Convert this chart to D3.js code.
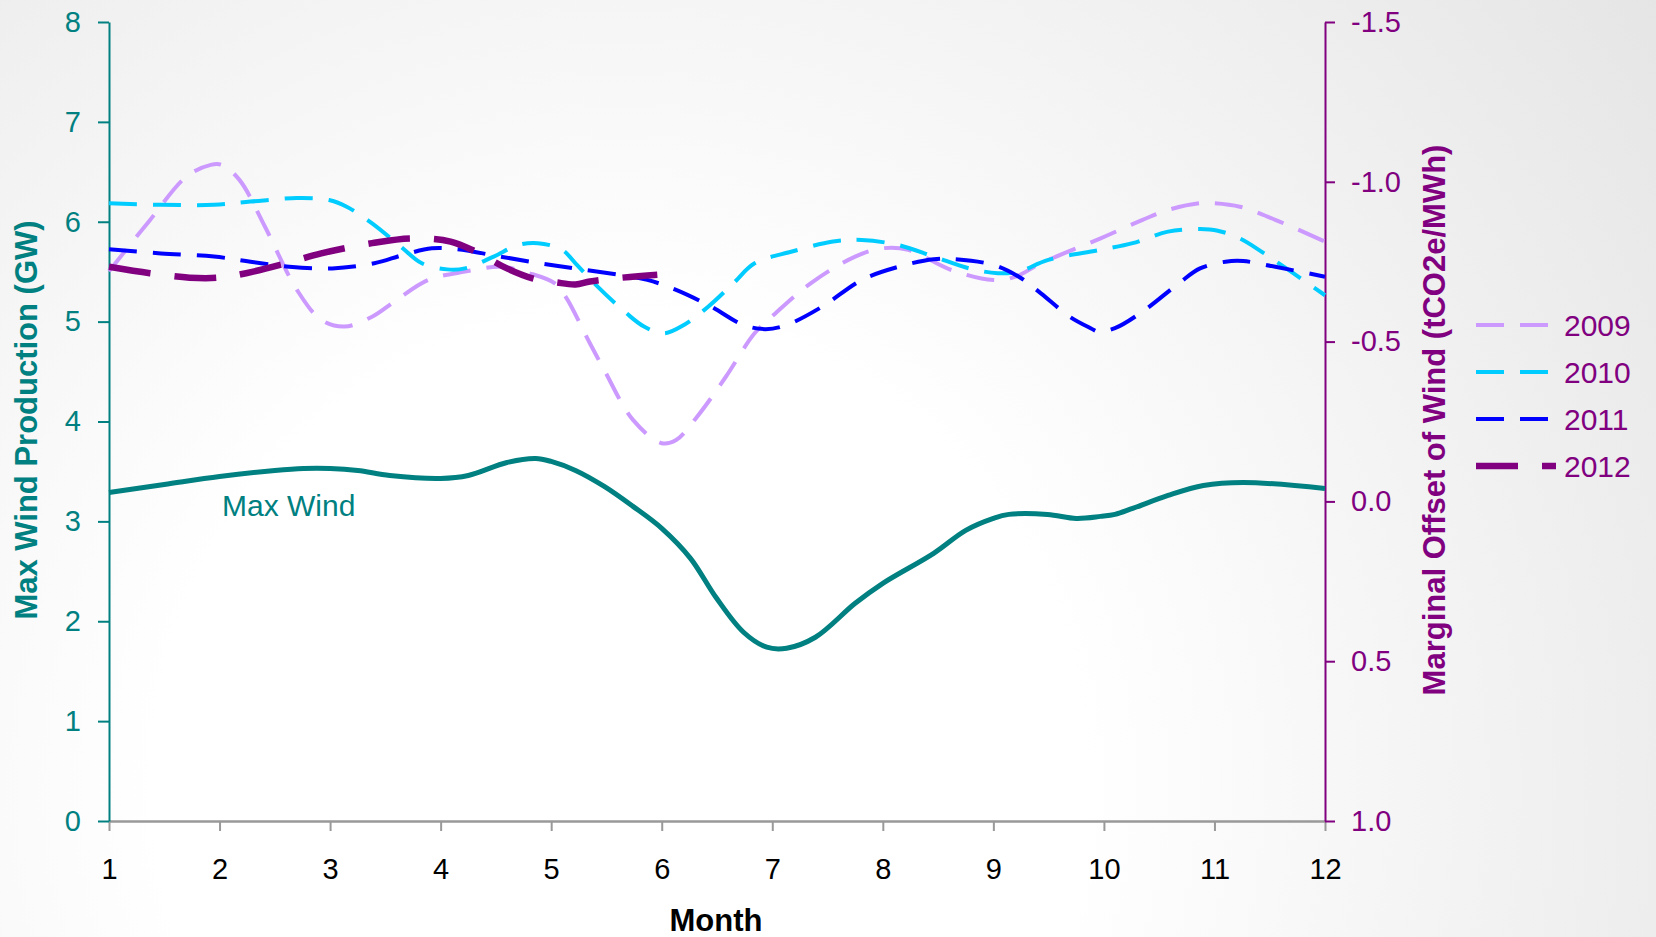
<!DOCTYPE html>
<html><head><meta charset="utf-8">
<script src="https://cdn.jsdelivr.net/npm/d3@7"></script>
<style>
body{margin:0;background:#fff;}
svg{display:block;font-family:"Liberation Sans",Arial,Helvetica,sans-serif;}
</style>
</head><body>
<svg id="chart" width="1656" height="937"></svg>
<script>
// ---------- DATA ----------
const monthTicks = [1,2,3,4,5,6,7,8,9,10,11,12];
const leftTicks = [0,1,2,3,4,5,6,7,8];
const rightTicks = [-1.5,-1.0,-0.5,0.0,0.5,1.0];
const seriesNames = ["2009","2010","2011","2012"];

// Max Wind (GW) – left axis
const maxWindMonths = [1,1.5,2,2.5,2.76,3.0,3.25,3.54,4.0,4.25,4.6,4.86,5.0,5.22,5.48,5.74,6.0,6.26,6.49,6.74,6.95,7.13,7.39,7.75,8.0,8.46,8.75,9.0,9.14,9.49,9.75,9.97,10.1,10.26,10.58,10.9,11.26,12.0];
const maxWindGW    = [3.29,3.37,3.45,3.51,3.53,3.53,3.51,3.46,3.43,3.46,3.59,3.63,3.60,3.51,3.35,3.15,2.93,2.63,2.24,1.89,1.74,1.73,1.84,2.18,2.38,2.68,2.91,3.03,3.07,3.07,3.03,3.05,3.07,3.13,3.26,3.36,3.39,3.33];

// Marginal offset of wind (tCO2e/MWh) – right axis
const months2009 = [1,1.37,1.70,1.92,2.02,2.18,2.41,2.70,2.92,3.13,3.38,3.60,3.89,4.22,4.54,4.80,5.03,5.13,5.35,5.48,5.74,6.0,6.13,6.32,6.58,6.84,7.03,7.35,7.75,8.0,8.23,8.62,9.0,9.2,9.43,9.97,10.35,10.58,10.87,11.0,11.23,11.55,12.0];
const offset2009 = [-0.72,-0.88,-1.016,-1.053,-1.053,-1.006,-0.86,-0.662,-0.568,-0.547,-0.578,-0.63,-0.693,-0.719,-0.734,-0.714,-0.683,-0.641,-0.495,-0.411,-0.255,-0.182,-0.192,-0.265,-0.39,-0.526,-0.589,-0.683,-0.766,-0.792,-0.787,-0.724,-0.693,-0.703,-0.745,-0.823,-0.881,-0.912,-0.933,-0.933,-0.922,-0.881,-0.813];

const months2010 = [1,1.47,1.95,2.28,2.70,2.99,3.15,3.38,3.64,3.83,4.06,4.22,4.48,4.70,4.88,5.10,5.22,5.42,5.68,5.84,6.02,6.20,6.42,6.65,6.84,7.17,7.55,7.81,8.14,8.46,8.78,9.04,9.23,9.49,9.97,10.26,10.58,10.87,11.03,11.23,11.45,12.0];
const offset2010 = [-0.933,-0.928,-0.928,-0.938,-0.949,-0.943,-0.922,-0.87,-0.797,-0.745,-0.726,-0.729,-0.766,-0.802,-0.808,-0.787,-0.745,-0.672,-0.589,-0.547,-0.526,-0.552,-0.609,-0.683,-0.745,-0.781,-0.813,-0.818,-0.802,-0.766,-0.729,-0.714,-0.719,-0.755,-0.787,-0.808,-0.844,-0.852,-0.847,-0.823,-0.776,-0.645];

const months2011 = [1,1.47,1.95,2.28,2.63,3.02,3.40,3.66,3.92,4.15,4.54,4.90,5.22,5.61,5.87,6.13,6.45,6.74,6.94,7.13,7.45,7.81,8.14,8.46,8.65,9.0,9.23,9.43,9.69,9.88,9.95,10.1,10.35,10.68,10.87,11.10,11.26,11.55,12.0];
const offset2011 = [-0.789,-0.776,-0.766,-0.75,-0.734,-0.729,-0.745,-0.771,-0.792,-0.789,-0.766,-0.745,-0.729,-0.709,-0.693,-0.662,-0.609,-0.552,-0.539,-0.552,-0.609,-0.693,-0.734,-0.758,-0.758,-0.74,-0.703,-0.651,-0.578,-0.542,-0.531,-0.542,-0.594,-0.683,-0.729,-0.75,-0.752,-0.734,-0.703];

const months2012 = [1,1.37,1.73,1.99,2.24,2.60,2.92,3.38,3.73,4.09,4.32,4.60,4.83,5.05,5.22,5.35,5.58,5.96];
const offset2012 = [-0.734,-0.714,-0.70,-0.70,-0.714,-0.745,-0.776,-0.808,-0.823,-0.813,-0.781,-0.729,-0.698,-0.685,-0.679,-0.688,-0.698,-0.709];

// ---------- STYLES ----------
const TEAL = "#008080", PURPLE = "#800080";
const seriesStyle = {
  "2009": {color:"#CC99FF", width:4,   dash:"28,16"},
  "2010": {color:"#00CCFF", width:4,   dash:"28,16"},
  "2011": {color:"#0000FF", width:4,   dash:"28,16"},
  "2012": {color:"#800080", width:6.5, dash:"42,24"}
};
const seriesData = {
  "2009": d3.zip(months2009, offset2009),
  "2010": d3.zip(months2010, offset2010),
  "2011": d3.zip(months2011, offset2011),
  "2012": d3.zip(months2012, offset2012)
};

// ---------- LAYOUT ----------
const svg = d3.select("#chart");
const X0 = 109, X1 = 1325, Y0 = 821, Y1 = 22;

const defs = svg.append("defs");
const grad = defs.append("radialGradient").attr("id","bg")
  .attr("gradientUnits","userSpaceOnUse").attr("cx",620).attr("cy",780).attr("r",1400);
grad.append("stop").attr("offset","0").attr("stop-color","#ffffff");
grad.append("stop").attr("offset","0.33").attr("stop-color","#ffffff");
grad.append("stop").attr("offset","1").attr("stop-color","#e2e2e2");
svg.append("rect").attr("width",1656).attr("height",937).attr("fill","url(#bg)");

const x  = d3.scaleLinear().domain([1,12]).range([X0,X1]);
const yL = d3.scaleLinear().domain([0,8]).range([Y0,Y1]);
const yR = d3.scaleLinear().domain([-1.5,1.0]).range([Y1,Y0]);

// ---------- AXES ----------
const fmt1 = d => d.toFixed(1);

const gx = svg.append("g").attr("transform",`translate(0,${Y0})`)
  .call(d3.axisBottom(x).tickValues(monthTicks).tickFormat(d3.format("d"))
        .tickSize(10).tickSizeOuter(0).tickPadding(27));
gx.select(".domain").attr("stroke","#999").attr("stroke-width",2.5);
gx.selectAll(".tick line").attr("stroke","#999").attr("stroke-width",2);
gx.selectAll(".tick text").attr("fill","#000").attr("font-size",29).attr("font-family",null);

const gl = svg.append("g").attr("transform",`translate(${X0},0)`)
  .call(d3.axisLeft(yL).tickValues(leftTicks).tickFormat(d3.format("d"))
        .tickSize(11).tickSizeOuter(0).tickPadding(17));
gl.select(".domain").attr("stroke",TEAL).attr("stroke-width",2);
gl.selectAll(".tick line").attr("stroke",TEAL).attr("stroke-width",2);
gl.selectAll(".tick text").attr("fill",TEAL).attr("font-size",29).attr("font-family",null);

const gr = svg.append("g").attr("transform",`translate(${X1},0)`)
  .call(d3.axisRight(yR).tickValues(rightTicks).tickFormat(fmt1)
        .tickSize(10).tickSizeOuter(0).tickPadding(16));
gr.select(".domain").attr("stroke",PURPLE).attr("stroke-width",2);
gr.selectAll(".tick line").attr("stroke",PURPLE).attr("stroke-width",2);
gr.selectAll(".tick text").attr("fill",PURPLE).attr("font-size",29).attr("font-family",null);

// ---------- TITLES ----------
svg.append("text").attr("transform","translate(37,420) rotate(-90)")
  .attr("text-anchor","middle").attr("font-weight","bold").attr("font-size",31)
  .attr("fill",TEAL).text("Max Wind Production (GW)");
svg.append("text").attr("transform","translate(1445,420) rotate(-90)")
  .attr("text-anchor","middle").attr("font-weight","bold").attr("font-size",31)
  .attr("fill",PURPLE).text("Marginal Offset of Wind (tCO2e/MWh)");
svg.append("text").attr("x",716).attr("y",931)
  .attr("text-anchor","middle").attr("font-weight","bold").attr("font-size",31)
  .attr("fill","#000").text("Month");

// ---------- LINES ----------
const lineR = d3.line().x(d=>x(d[0])).y(d=>yR(d[1])).curve(d3.curveCatmullRom.alpha(0.5));
const lineL = d3.line().x(d=>x(d[0])).y(d=>yL(d[1])).curve(d3.curveCatmullRom.alpha(0.5));

svg.append("path").datum(d3.zip(maxWindMonths, maxWindGW))
  .attr("d",lineL).attr("fill","none").attr("stroke",TEAL).attr("stroke-width",5)
  .attr("stroke-linejoin","round");

seriesNames.forEach(n => {
  const s = seriesStyle[n];
  svg.append("path").datum(seriesData[n])
    .attr("d",lineR).attr("fill","none").attr("stroke",s.color)
    .attr("stroke-width",s.width).attr("stroke-dasharray",s.dash);
});

svg.append("text").attr("x",222).attr("y",516).attr("font-size",30)
  .attr("fill",TEAL).text("Max Wind");

// ---------- LEGEND ----------
const lg = svg.append("g");
seriesNames.forEach((n,i) => {
  const s = seriesStyle[n];
  const ly = 325 + i*47;
  lg.append("line").attr("x1",1476).attr("x2", n==="2012" ? 1556 : 1548)
    .attr("y1",ly).attr("y2",ly).attr("stroke",s.color).attr("stroke-width",s.width)
    .attr("stroke-dasharray",s.dash);
  lg.append("text").attr("x",1564).attr("y",ly+11).attr("font-size",30)
    .attr("fill",PURPLE).text(n);
});
</script>
</body></html>
